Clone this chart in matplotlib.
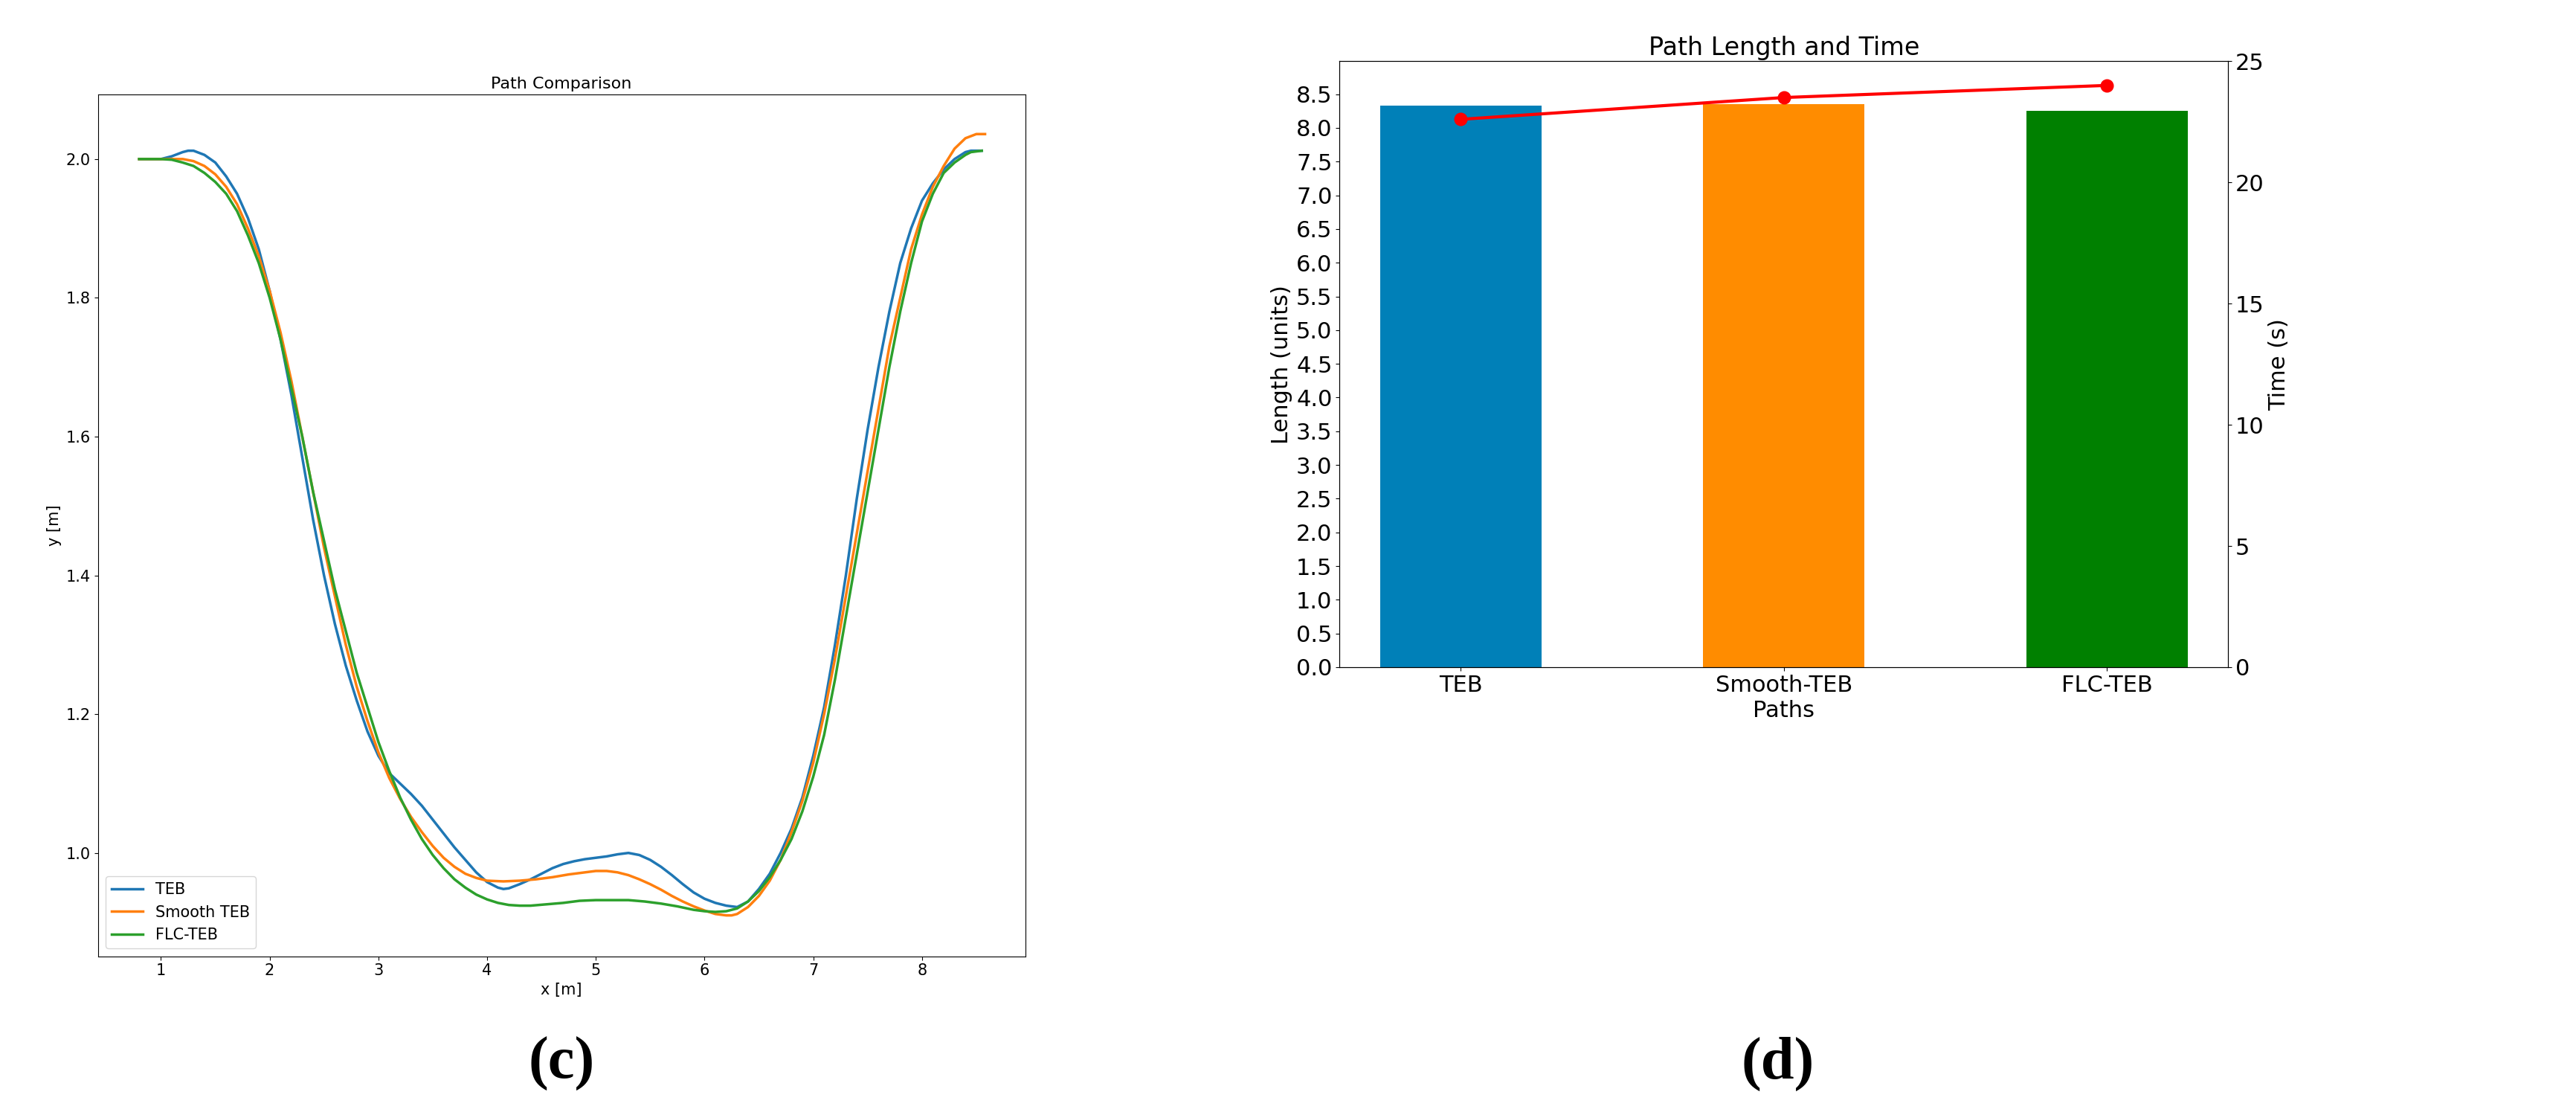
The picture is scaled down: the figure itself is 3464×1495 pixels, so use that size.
import matplotlib.pyplot as plt

# Path comparison data (x [m], y [m])
teb_x = [0.8, 1.0, 1.1, 1.2, 1.25, 1.3, 1.4, 1.5, 1.6, 1.7, 1.8, 1.9, 2.0, 2.1, 2.2, 2.3, 2.4, 2.5, 2.6, 2.7, 2.8, 2.9, 3.0, 3.1, 3.2, 3.3, 3.4, 3.5, 3.6, 3.7, 3.8, 3.9, 4.0, 4.1, 4.15, 4.2, 4.3, 4.4, 4.5, 4.6, 4.7, 4.8, 4.9, 5.0, 5.1, 5.2, 5.3, 5.4, 5.5, 5.6, 5.7, 5.8, 5.9, 6.0, 6.1, 6.2, 6.3, 6.4, 6.5, 6.6, 6.7, 6.8, 6.9, 7.0, 7.1, 7.2, 7.3, 7.4, 7.5, 7.6, 7.7, 7.8, 7.9, 8.0, 8.1, 8.2, 8.3, 8.4, 8.45, 8.55]
teb_y = [2.0, 2.0, 2.004, 2.01, 2.012, 2.012, 2.006, 1.995, 1.975, 1.95, 1.915, 1.87, 1.81, 1.74, 1.66, 1.57, 1.48, 1.40, 1.33, 1.27, 1.22, 1.175, 1.14, 1.115, 1.10, 1.085, 1.068, 1.048, 1.028, 1.008, 0.99, 0.972, 0.958, 0.95, 0.948, 0.949, 0.955, 0.962, 0.97, 0.978, 0.984, 0.988, 0.991, 0.993, 0.995, 0.998, 1.0, 0.997, 0.99, 0.98, 0.968, 0.955, 0.943, 0.934, 0.928, 0.924, 0.922, 0.93, 0.948, 0.97, 1.0, 1.035, 1.08, 1.14, 1.21, 1.30, 1.40, 1.51, 1.61, 1.70, 1.78, 1.85, 1.90, 1.94, 1.965, 1.985, 2.0, 2.01, 2.012, 2.012]
smooth_x = [0.8, 1.0, 1.2, 1.3, 1.4, 1.5, 1.6, 1.7, 1.8, 1.9, 2.0, 2.1, 2.2, 2.3, 2.4, 2.5, 2.6, 2.7, 2.8, 2.9, 3.0, 3.1, 3.2, 3.3, 3.4, 3.5, 3.6, 3.7, 3.8, 3.9, 4.0, 4.15, 4.3, 4.45, 4.6, 4.75, 4.9, 5.0, 5.1, 5.2, 5.3, 5.4, 5.5, 5.6, 5.7, 5.8, 5.9, 6.0, 6.1, 6.2, 6.25, 6.3, 6.4, 6.5, 6.6, 6.7, 6.8, 6.9, 7.0, 7.1, 7.2, 7.3, 7.4, 7.5, 7.6, 7.7, 7.8, 7.9, 8.0, 8.1, 8.2, 8.3, 8.4, 8.5, 8.58]
smooth_y = [2.0, 2.0, 2.0, 1.997, 1.99, 1.978, 1.96, 1.935, 1.90, 1.86, 1.81, 1.75, 1.68, 1.60, 1.52, 1.44, 1.37, 1.30, 1.24, 1.19, 1.145, 1.108, 1.078, 1.052, 1.03, 1.01, 0.993, 0.98, 0.97, 0.964, 0.96, 0.959, 0.96, 0.962, 0.965, 0.969, 0.972, 0.974, 0.974, 0.972, 0.968, 0.962, 0.955, 0.947, 0.938, 0.93, 0.923, 0.917, 0.912, 0.91, 0.91, 0.912, 0.922, 0.938, 0.96, 0.99, 1.03, 1.075, 1.13, 1.2, 1.28, 1.37, 1.46, 1.55, 1.64, 1.73, 1.80, 1.87, 1.92, 1.96, 1.99, 2.015, 2.03, 2.036, 2.036]
flc_x = [0.8, 1.0, 1.1, 1.2, 1.3, 1.4, 1.5, 1.6, 1.7, 1.8, 1.9, 2.0, 2.1, 2.2, 2.3, 2.4, 2.5, 2.6, 2.7, 2.8, 2.9, 3.0, 3.1, 3.2, 3.3, 3.4, 3.5, 3.6, 3.7, 3.8, 3.9, 4.0, 4.1, 4.2, 4.3, 4.4, 4.55, 4.7, 4.85, 5.0, 5.15, 5.3, 5.45, 5.6, 5.75, 5.9, 6.0, 6.1, 6.2, 6.3, 6.4, 6.5, 6.6, 6.7, 6.8, 6.9, 7.0, 7.1, 7.2, 7.3, 7.4, 7.5, 7.6, 7.7, 7.8, 7.9, 8.0, 8.1, 8.2, 8.3, 8.4, 8.45, 8.55]
flc_y = [2.0, 2.0, 1.999, 1.995, 1.99, 1.98, 1.967, 1.95, 1.925, 1.89, 1.85, 1.80, 1.74, 1.67, 1.60, 1.52, 1.45, 1.38, 1.32, 1.26, 1.21, 1.16, 1.118, 1.08, 1.048, 1.02, 0.997, 0.978, 0.962, 0.95, 0.94, 0.933, 0.928, 0.925, 0.924, 0.924, 0.926, 0.928, 0.931, 0.932, 0.932, 0.932, 0.93, 0.927, 0.923, 0.918, 0.916, 0.915, 0.916, 0.92, 0.93, 0.945, 0.965, 0.99, 1.02, 1.06, 1.11, 1.17, 1.25, 1.34, 1.43, 1.52, 1.61, 1.70, 1.78, 1.85, 1.91, 1.95, 1.98, 1.995, 2.006, 2.01, 2.012]

# Path length and time data
paths = ['TEB', 'Smooth-TEB', 'FLC-TEB']
lengths = [8.33, 8.35, 8.25]
times = [22.6, 23.5, 24.0]
bar_colors = ['#0080b8', '#ff8c00', '#008000']

fig = plt.figure(figsize=(34.64, 14.95), dpi=100)

# (c) path comparison
ax1 = fig.add_axes([0.038, 0.14, 0.36, 0.775])
ax1.plot(teb_x, teb_y, color='#1f77b4', lw=2.5, label='TEB')
ax1.plot(smooth_x, smooth_y, color='#ff7f0e', lw=2.5, label='Smooth TEB')
ax1.plot(flc_x, flc_y, color='#2ca02c', lw=2.5, label='FLC-TEB')
ax1.set_xlim(0.42, 8.95)
ax1.set_ylim(0.851, 2.093)
ax1.set_title('Path Comparison', fontsize=16)
ax1.set_xlabel('x [m]', fontsize=15)
ax1.set_ylabel('y [m]', fontsize=15)
ax1.tick_params(labelsize=15)
ax1.legend(loc='lower left', fontsize=15)

# (d) path length and time
ax2 = fig.add_axes([0.52, 0.40, 0.345, 0.545])
ax2.bar(paths, lengths, width=0.5, color=bar_colors)
ax2.set_ylim(0, 8.99)
ax2.set_yticks([i * 0.5 for i in range(18)])
ax2.set_title('Path Length and Time', fontsize=24)
ax2.set_xlabel('Paths', fontsize=22)
ax2.set_ylabel('Length (units)', fontsize=22)
ax2.tick_params(labelsize=22)
ax2b = ax2.twinx()
ax2b.plot(paths, times, color='red', marker='o', markersize=12, lw=3)
ax2b.set_ylim(0, 25)
ax2b.set_ylabel('Time (s)', fontsize=22)
ax2b.tick_params(labelsize=22)

fig.text(0.218, 0.03, '(c)', fontsize=58, fontweight='bold', family='Liberation Serif', ha='center')
fig.text(0.69, 0.03, '(d)', fontsize=58, fontweight='bold', family='Liberation Serif', ha='center')

fig.savefig('out.png', dpi=100)
